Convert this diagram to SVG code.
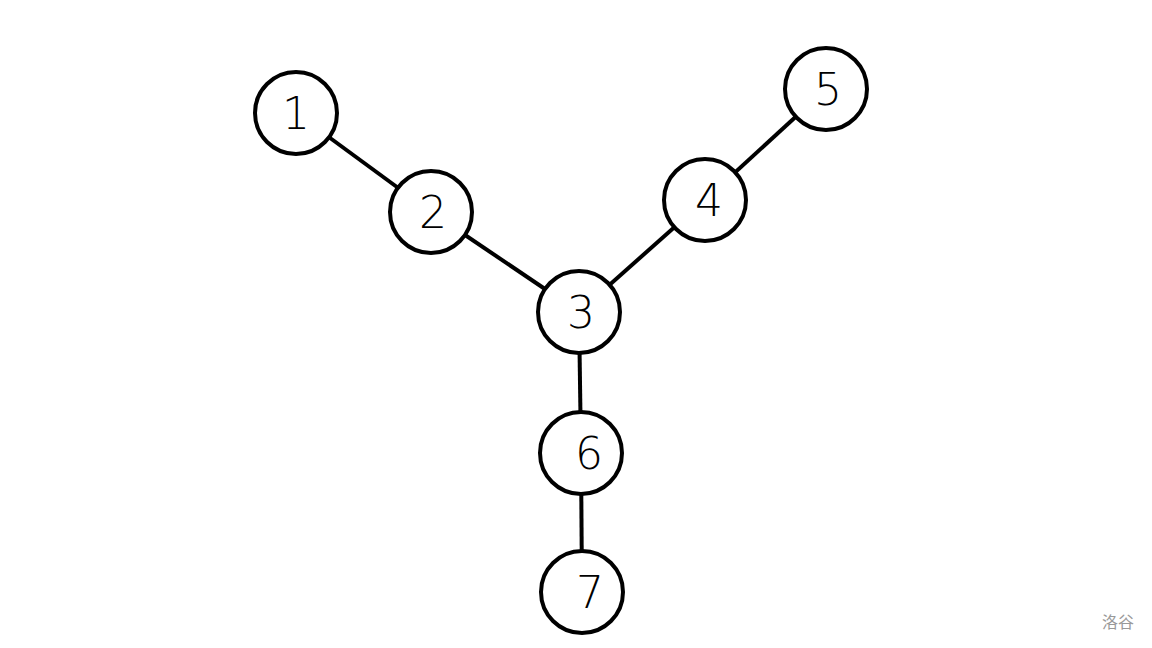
<svg xmlns="http://www.w3.org/2000/svg" width="1152" height="648" viewBox="0 0 1152 648">
<style>
.n{fill:#fff;stroke:#000;stroke-width:4}
.e{stroke:#000;stroke-width:4}
.t{font-family:"DejaVu Sans","Liberation Sans",sans-serif;font-size:44px;font-weight:200;text-anchor:middle;fill:#000}
.w{font-family:"Liberation Sans","Noto Sans CJK SC",sans-serif;font-size:16px;fill:#999;text-anchor:middle}
</style>
<rect width="1152" height="648" fill="#fff"/>
<g id="connectors">
<line class="e" x1="296" y1="113" x2="431" y2="212"/>
<line class="e" x1="431" y1="212" x2="579" y2="312"/>
<line class="e" x1="579" y1="312" x2="705" y2="200"/>
<line class="e" x1="705" y1="200" x2="826" y2="89"/>
<line class="e" x1="579" y1="312" x2="581" y2="453"/>
<line class="e" x1="581" y1="453" x2="582" y2="592"/>
</g>
<g id="n1"><circle class="n" cx="296" cy="113" r="41"/><text class="t" x="296" y="129">1</text></g>
<g id="n2"><circle class="n" cx="431" cy="212" r="41"/><text class="t" x="433" y="228">2</text></g>
<g id="n3"><circle class="n" cx="579" cy="312" r="41"/><text class="t" x="581" y="328">3</text></g>
<g id="n4"><circle class="n" cx="705" cy="200" r="41"/><text class="t" x="709" y="216">4</text></g>
<g id="n5"><circle class="n" cx="826" cy="89" r="41"/><text class="t" x="828" y="105">5</text></g>
<g id="n6"><circle class="n" cx="581" cy="453" r="41"/><text class="t" x="589" y="469">6</text></g>
<g id="n7"><circle class="n" cx="582" cy="592" r="41"/><text class="t" x="590" y="608">7</text></g>
<text class="w" x="1118" y="628">洛谷</text>
</svg>
